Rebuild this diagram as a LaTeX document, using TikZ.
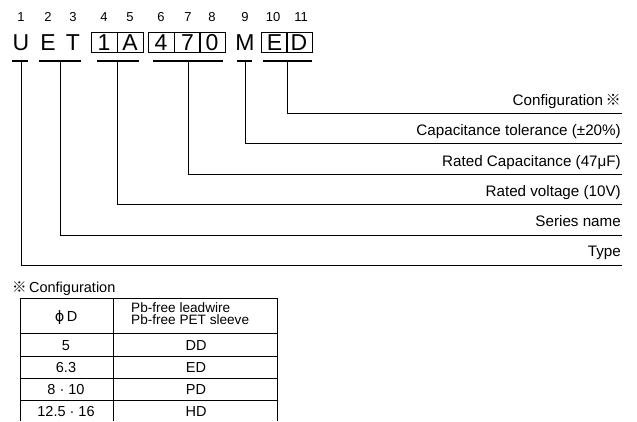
\documentclass[tikz,border=0pt]{standalone}
\usepackage{fontspec}
\setmainfont{Liberation Sans}
\newfontfamily\cjk{Noto Sans CJK JP}
\newfontfamily\dejavu{DejaVu Sans}
\begin{document}
\begin{tikzpicture}[x=1pt,y=-1pt,
  ch/.style={font=\fontsize{23}{23}\selectfont, inner sep=0pt, text height=16.3pt, text depth=0pt, minimum width=26pt, minimum height=20pt},
  chbox/.style={ch, draw, line width=0.7pt},
  num/.style={font=\fontsize{13}{13}\selectfont, anchor=base, inner sep=0pt},
  lab/.style={font=\fontsize{15.2}{15.2}\selectfont, anchor=base east, inner sep=0pt},
  cell/.style={font=\fontsize{14.5}{14.5}\selectfont, anchor=base, inner sep=0pt},
  hdr/.style={font=\fontsize{13.6}{13.6}\selectfont, anchor=base west, inner sep=0pt, text height=8pt, text depth=2pt},
  bar/.style={line width=1.6pt},
  conn/.style={line width=0.9pt},
  tab/.style={line width=0.8pt}]
\useasboundingbox (0,0) rectangle (637,421);

% position numbers
\foreach \n/\x in {1/21,2/48,3/73,4/104,5/130,6/161,7/188,8/212,9/245,10/273,11/301}
  \node[num] (n\n) at (\x,21) {\n};

% characters
\node[ch] (c1) at (21,42) {U};
\node[ch] (c2) at (48,42) {E};
\node[ch] (c3) at (73,42) {T};
\node[chbox] (c4) at (104,42) {1};
\node[chbox] (c5) at (130,42) {A};
\node[chbox] (c6) at (161,42) {4};
\node[chbox] (c7) at (187.5,42) {7};
\node[chbox] (c8) at (212,42) {0};
\node[ch] (c9) at (245,42) {M};
\node[chbox] (c10) at (274.5,42) {E};
\node[chbox] (c11) at (299,42) {D};

% underbars
\draw[bar] (12,61) -- (28,61);
\draw[bar] (39,61) -- (81,61);
\draw[bar] (97,61) -- (139,61);
\draw[bar] (153,61) -- (223,61);
\draw[bar] (237,61) -- (252,61);
\draw[bar] (263,61) -- (312,61);

\coordinate (bU) at (21,61);
\coordinate (bET) at (60,61);
\coordinate (bA) at (117,61);
\coordinate (bC) at (188,61);
\coordinate (bM) at (245,61);
\coordinate (bED) at (287,61);

\coordinate (eED) at (622,113);
\coordinate (eM) at (622,143);
\coordinate (eC) at (622,174);
\coordinate (eA) at (622,204);
\coordinate (eET) at (622,235);
\coordinate (eU) at (622,265);

\draw[conn] (bED) |- (eED);
\draw[conn] (bM) |- (eM);
\draw[conn] (bC) |- (eC);
\draw[conn] (bA) |- (eA);
\draw[conn] (bET) |- (eET);
\draw[conn] (bU) |- (eU);

\node[lab] (lED) at (621,105.5) {Configuration\,{\cjk ※}};
\node[lab] (lM) at (621,135.5) {Capacitance tolerance (±20\%)};
\node[lab] (lC) at (621,166.5) {Rated Capacitance (47μF)};
\node[lab] (lA) at (621,196) {Rated voltage (10V)};
\node[lab] (lET) at (621,226.5) {Series name};
\node[lab] (lU) at (621,256.5) {Type};

% table
\node[anchor=base west, inner sep=0pt, font=\fontsize{14.5}{14.5}\selectfont] (tt) at (12,292.5) {{\cjk ※}\,Configuration};
\draw[tab] (20,421) -- (20,298) -- (277,298) -- (277,421);
\draw[tab] (113,298) -- (113,421);
\foreach \y in {333,356,378,400} \draw[tab] (20,\y) -- (277,\y);

\node[cell] (h1) at (66,321) {{\dejavu ϕ}\,D};
\node[hdr] (h2a) at (131,312.5) {Pb-free leadwire};
\node[hdr] (h2b) at (131,324.8) {Pb-free PET sleeve};
\node[cell] (r1a) at (66,350) {5};
\node[cell] (r1b) at (196,350) {DD};
\node[cell] (r2a) at (66,372.5) {6.3};
\node[cell] (r2b) at (196,372.5) {ED};
\node[cell] (r3a) at (66,394.5) {8 · 10};
\node[cell] (r3b) at (196,394.5) {PD};
\node[cell] (r4a) at (66,416) {12.5 · 16};
\node[cell] (r4b) at (196,416) {HD};
\end{tikzpicture}
\end{document}
